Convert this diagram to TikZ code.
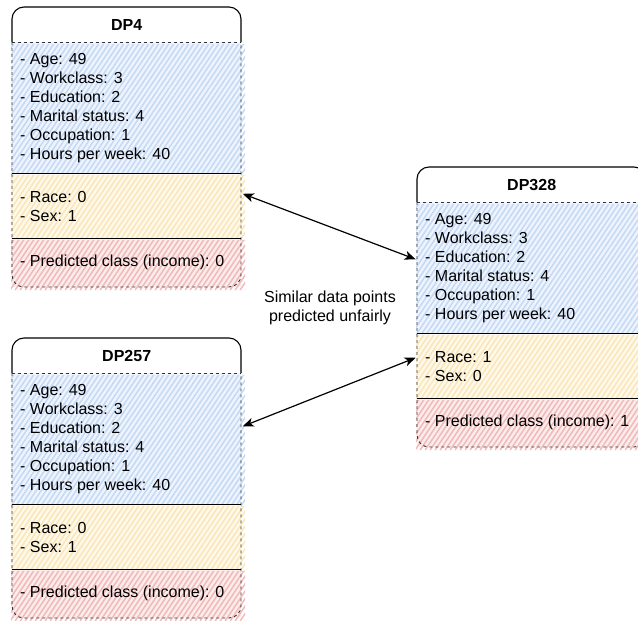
\documentclass[tikz,border=0pt]{standalone}
\usepackage{fontspec}
\setmainfont{Liberation Sans}
\usetikzlibrary{arrows.meta,calc}

\definecolor{hatchblue}{HTML}{C6D9F4}
\definecolor{hatchyellow}{HTML}{FAE6B6}
\definecolor{hatchred}{HTML}{F2B9B9}
\definecolor{tintblue}{HTML}{EEF4FD}
\definecolor{tintyellow}{HTML}{FEF9EC}
\definecolor{tintred}{HTML}{FCEDED}
\definecolor{dashgray}{HTML}{333333}

\tikzset{
  headline/.style={draw=black, line width=1.1pt},
  dashline/.style={draw=dashgray, line width=0.9pt, dash pattern=on 3pt off 3pt},
  sepline/.style={draw=black, line width=1pt},
  rowtext/.style={anchor=west, align=left, inner sep=0pt, font=\fontsize{16}{19}\selectfont},
  titletext/.style={inner sep=0pt, font=\fontsize{16}{19}\selectfont\bfseries},
  section/.style={minimum width=229pt, inner sep=0pt, anchor=north west},
  link/.style={line width=1.2pt, {Stealth[length=11pt,width=9pt,inset=3pt]}-{Stealth[length=11pt,width=9pt,inset=3pt]}, shorten <=1.5pt, shorten >=1.5pt},
}

% diagonal hachure fill of a rectangle: x1, y1 (top), x2, y2 (bottom), line colour, tint colour
\newcommand\hatchfill[6]{%
  \fill[#6] (#1,#2) rectangle (#3,#4);
  \begin{scope}
    \clip (#1-1,#2+2) rectangle (#3+4,#4+3);
    \pgfmathsetmacro\hatchh{#4-#2+6}
    \pgfmathsetmacro\hatchdx{\hatchh*0.67}
    \pgfmathsetmacro\hatchxs{#1-\hatchdx}
    \pgfmathsetmacro\hatchxn{\hatchxs+5}
    \pgfmathsetmacro\hatchxe{#3+6}
    \foreach \hx in {\hatchxs,\hatchxn,...,\hatchxe}
      \draw[#5, line width=1.5pt] (\hx,#4+3) -- ++(\hatchdx,-\hatchh);
  \end{scope}}

% a data point card: name, left x, top y, title, features, protected attributes, prediction
\newcommand\datacard[7]{%
  \pgfmathsetmacro\cxa{#2}
  \pgfmathsetmacro\cxb{#2+229}
  \pgfmathsetmacro\cyt{#3}
  \pgfmathsetmacro\cyh{#3+35}
  \pgfmathsetmacro\cyb{#3+166}
  \pgfmathsetmacro\cyy{#3+231}
  \pgfmathsetmacro\cye{#3+280}
  \hatchfill{\cxa}{\cyh}{\cxb}{\cyb}{hatchblue}{tintblue}
  \hatchfill{\cxa}{\cyb}{\cxb}{\cyy}{hatchyellow}{tintyellow}
  \hatchfill{\cxa}{\cyy}{\cxb}{\cye}{hatchred}{tintred}
  \node[section, minimum height=35pt] (#1-h) at (\cxa,\cyt) {};
  \node[section, minimum height=131pt] (#1-b) at (\cxa,\cyh) {};
  \node[section, minimum height=65pt] (#1-y) at (\cxa,\cyb) {};
  \node[section, minimum height=49pt] (#1-r) at (\cxa,\cyy) {};
  \draw[dashline, rounded corners=12pt] (\cxa,\cyh) -- (\cxa,\cye) -- (\cxb,\cye) -- (\cxb,\cyh);
  \draw[dashline] (\cxa,\cyh) -- (\cxb,\cyh);
  \draw[headline, rounded corners=12pt] (\cxa,\cyh) -- (\cxa,\cyt) -- (\cxb,\cyt) -- (\cxb,\cyh);
  \draw[sepline] (\cxa,\cyb) -- (\cxb,\cyb);
  \draw[sepline] (\cxa,\cyy) -- (\cxb,\cyy);
  \node[titletext] (#1-title) at (#1-h.center) {#4};
  \node[rowtext] (#1-bt) at ($(#1-b.west)+(8,0)$) {#5};
  \node[rowtext] (#1-yt) at ($(#1-y.west)+(8,1)$) {#6};
  \node[rowtext] (#1-rt) at ($(#1-r.west)+(8,0)$) {#7};
}

\begin{document}
\begin{tikzpicture}[x=1pt, y=-1pt]
  \useasboundingbox (0,0) rectangle (638,621);
  \clip (0,0) rectangle (638,621);

  \datacard{dp4}{12}{7}{DP4}
    {- Age: 49\\- Workclass: 3\\- Education: 2\\- Marital status: 4\\- Occupation: 1\\- Hours per week: 40}
    {- Race: 0\\- Sex: 1}
    {- Predicted class (income): 0}

  \datacard{dp257}{12}{338}{DP257}
    {- Age: 49\\- Workclass: 3\\- Education: 2\\- Marital status: 4\\- Occupation: 1\\- Hours per week: 40}
    {- Race: 0\\- Sex: 1}
    {- Predicted class (income): 0}

  \datacard{dp328}{417}{167}{DP328}
    {- Age: 49\\- Workclass: 3\\- Education: 2\\- Marital status: 4\\- Occupation: 1\\- Hours per week: 40}
    {- Race: 1\\- Sex: 0}
    {- Predicted class (income): 1}

  \node[align=center, inner sep=0pt, font=\fontsize{16}{19}\selectfont] (note) at (330,308)
    {Similar data points\\predicted unfairly};

  \draw[link] ($(dp4-y.north east)!0.31!(dp4-y.south east)$) -- ($(dp328-b.north west)!0.44!(dp328-b.south west)$);
  \draw[link] ($(dp257-b.north east)!0.41!(dp257-b.south east)$) -- ($(dp328-y.north west)!0.37!(dp328-y.south west)$);
\end{tikzpicture}
\end{document}
